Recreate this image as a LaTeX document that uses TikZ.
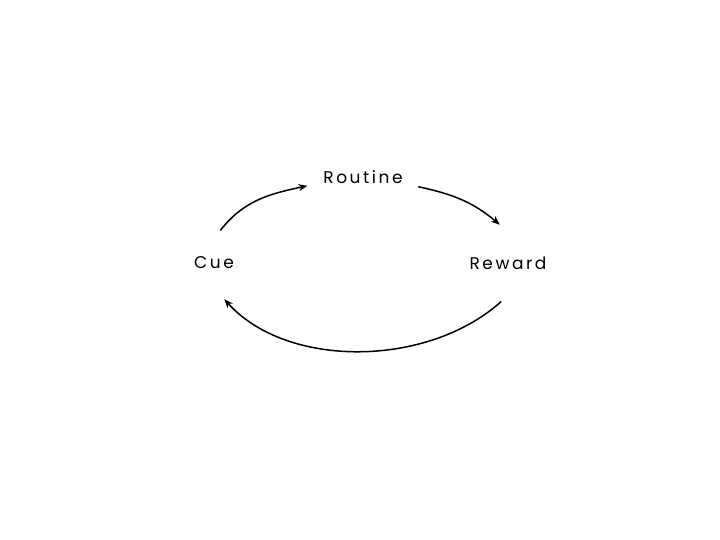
\documentclass[tikz,border=0pt]{standalone}
\usepackage{fontspec}
\setmainfont[LetterSpace=15]{Poppins}
\usepackage{tikz}
\usetikzlibrary{arrows.meta}
\tikzset{
  loop word/.style={
    circle,
    inner sep=0pt,
    minimum size=#1,
    font=\fontsize{17}{20}\selectfont
  },
  loop arrow/.style={
    line width=1.5pt,
    -{Stealth[length=9pt,width=7pt]}
  }
}
\begin{document}
\begin{tikzpicture}[x=1pt,y=-1pt]
    \useasboundingbox (0,0) rectangle (720,540);
    \begin{scope}
        \node[loop word=66pt] (Cue) at (214,263) {Cue};
        \node[loop word=112pt] (Routine) at (363,177) {Routine};
        \node[loop word=66pt] (Reward) at (508,263) {Reward};
    \end{scope}
    \begin{scope}[every edge/.style={draw,loop arrow}]
        \path (Cue.79) edge[out=52,in=192] (Routine.189);
        \path (Routine.-10) edge[out=-12,in=140] (Reward.102);
        \path (Reward.-100) edge[out=222,in=-48,looseness=0.9,shorten >=5pt] (Cue.-78);
    \end{scope}
\end{tikzpicture}
\end{document}
